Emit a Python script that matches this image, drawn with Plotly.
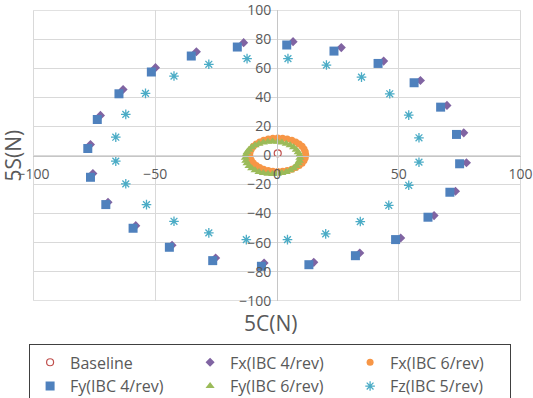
import plotly.graph_objects as go

# --- data -----------------------------------------------------------------
baseline_x = [0.3]
baseline_y = [1.5]

fx4_x = [6.6, 26.4, 43.8, 58.9, 69.8, 76.7, 77.8, 73.3, 64.5, 50.8, 34.0, 15.1,
         -5.3, -25.2, -43.1, -58.0, -69.4, -75.6, -76.6, -72.5, -63.2, -49.9, -33.1, -13.7]
fx4_y = [78.4, 74.3, 65.0, 51.7, 34.5, 15.6, -5.0, -24.6, -41.4, -56.8, -67.1, -73.6,
         -74.0, -70.6, -61.8, -48.3, -32.2, -12.4, 7.6, 27.6, 45.5, 60.5, 71.5, 77.7]

fy4_x = [4.0, 23.4, 41.5, 56.3, 67.2, 73.7, 75.0, 71.0, 62.0, 48.7, 32.2, 13.1,
         -6.4, -26.4, -44.2, -59.1, -70.3, -76.6, -77.7, -73.8, -64.9, -51.6, -35.2, -16.3]
fy4_y = [76.1, 71.9, 63.4, 50.1, 33.3, 14.5, -5.7, -25.3, -42.5, -57.9, -69.0, -75.2,
         -76.3, -72.4, -63.2, -50.1, -33.8, -15.0, 4.8, 24.8, 42.5, 57.5, 68.5, 74.7]

fx6_x = [11.8, 11.6, 11.1, 10.3, 9.1, 7.7, 6.1, 4.2, 2.3, 0.3, -1.7, -3.6,
         -5.5, -7.1, -8.5, -9.7, -10.5, -11.0, -11.2, -11.0, -10.5, -9.7, -8.5, -7.1,
         -5.5, -3.6, -1.7, 0.3, 2.3, 4.2, 6.1, 7.7, 9.1, 10.3, 11.1, 11.6]
fx6_y = [0.5, 2.5, 4.4, 6.3, 7.9, 9.3, 10.5, 11.3, 11.8, 12.0, 11.8, 11.3,
         10.5, 9.3, 7.9, 6.3, 4.4, 2.5, 0.5, -1.5, -3.4, -5.3, -6.9, -8.3,
         -9.5, -10.3, -10.8, -11.0, -10.8, -10.3, -9.5, -8.3, -6.9, -5.3, -3.4, -1.5]

fy6_x = [9.4, 9.2, 8.7, 7.9, 6.8, 5.4, 3.8, 2.0, 0.2, -1.8, -3.7, -5.6,
         -7.4, -9.0, -10.4, -11.5, -12.3, -12.8, -13.0, -12.8, -12.3, -11.5, -10.4, -9.0,
         -7.4, -5.6, -3.7, -1.8, 0.2, 2.0, 3.8, 5.4, 6.8, 7.9, 8.7, 9.2]
fy6_y = [-1.6, 0.4, 2.2, 4.0, 5.6, 7.0, 8.1, 8.9, 9.4, 9.6, 9.4, 8.9,
         8.1, 7.0, 5.6, 4.0, 2.2, 0.4, -1.6, -3.6, -5.4, -7.2, -8.8, -10.2,
         -11.3, -12.1, -12.6, -12.8, -12.6, -12.1, -11.3, -10.2, -8.8, -7.2, -5.4, -3.6]

fz5_x = [4.5, 20.3, 34.7, 46.3, 54.1, 58.3, 58.3, 54.1, 45.9, 34.2, 20.0, 4.3,
         -12.6, -28.0, -42.3, -53.6, -62.1, -66.2, -66.2, -62.1, -54.0, -42.3, -28.0, -12.3]
fz5_y = [66.7, 62.3, 54.0, 42.5, 27.8, 12.2, -4.6, -20.5, -34.3, -45.5, -54.0, -57.9,
         -57.9, -53.3, -45.3, -33.8, -19.5, -3.9, 12.6, 28.3, 42.8, 54.7, 62.8, 66.7]

y_tick_vals = [-100, -80, -60, -40, -20, 0, 20, 40, 60, 80, 100]
x_tick_vals = [-100, -50, 0, 50, 100]
axis_limit = 100

# --- figure ---------------------------------------------------------------
fig = go.Figure()

fig.add_trace(go.Scatter(
    x=baseline_x, y=baseline_y, mode="markers", name="Baseline",
    marker=dict(symbol="circle-open", size=7, color="#c0504d", line=dict(width=1.2))))
fig.add_trace(go.Scatter(
    x=fx4_x, y=fx4_y, mode="markers", name="Fx(IBC 4/rev)",
    marker=dict(symbol="diamond", size=7, color="#8064a2")))
fig.add_trace(go.Scatter(
    x=fx6_x, y=fx6_y, mode="markers", name="Fx(IBC 6/rev)",
    marker=dict(symbol="circle", size=7, color="#f79646")))
fig.add_trace(go.Scatter(
    x=fy4_x, y=fy4_y, mode="markers", name="Fy(IBC 4/rev)",
    marker=dict(symbol="square", size=9, color="#4f81bd")))
fig.add_trace(go.Scatter(
    x=fy6_x, y=fy6_y, mode="markers", name="Fy(IBC 6/rev)",
    marker=dict(symbol="triangle-up", size=8, color="#9bbb59")))
fig.add_trace(go.Scatter(
    x=fz5_x, y=fz5_y, mode="markers", name="Fz(IBC 5/rev)",
    marker=dict(symbol="asterisk-open", size=8, color="#4bacc6",
                line=dict(width=1.3, color="#4bacc6"))))

tick_font = dict(family="Open Sans", size=14, color="#595959")

# axes cross at the origin: each axis line sits in the middle of the plot area
fig.update_xaxes(
    range=[-100.2, 100.2], tickvals=x_tick_vals, anchor="free", position=0.5,
    showgrid=True, gridcolor="#d9d9d9", gridwidth=1,
    showline=True, linecolor="#c6c6c6", linewidth=1,
    zeroline=False, ticks="", ticklabelstandoff=6, tickfont=tick_font,
    automargin=False)
fig.update_yaxes(
    range=[-100.2, 100.2], tickvals=y_tick_vals, anchor="free", position=0.5,
    showgrid=True, gridcolor="#d9d9d9", gridwidth=1,
    showline=True, linecolor="#c6c6c6", linewidth=1,
    zeroline=False, ticks="", ticklabelstandoff=3, tickfont=tick_font,
    automargin=False)

# outer grid frame at +/-100
fig.add_shape(type="rect", xref="x", yref="y",
              x0=-axis_limit, x1=axis_limit, y0=-axis_limit, y1=axis_limit,
              line=dict(color="#d9d9d9", width=1), layer="below")

fig.add_annotation(text="5S(N)", xref="paper", yref="paper", x=-0.043, y=0.5,
                   xanchor="center", yanchor="middle",
                   textangle=-90, showarrow=False,
                   font=dict(family="Open Sans", size=21, color="#595959"))
fig.add_annotation(text="5C(N)", xref="paper", yref="paper", x=0.486, y=-0.075,
                   xanchor="center", yanchor="middle", showarrow=False,
                   font=dict(family="Open Sans", size=21, color="#595959"))

fig.update_layout(
    width=533, height=398,
    margin=dict(l=33, r=12, t=10, b=97, autoexpand=False),
    paper_bgcolor="white", plot_bgcolor="white",
    font=dict(family="Open Sans", color="#595959"),
    legend=dict(
        orientation="h", x=-0.008, y=-0.149, xanchor="left", yanchor="top",
        entrywidth=115, entrywidthmode="pixels",
        bordercolor="#404040", borderwidth=1, bgcolor="white",
        font=dict(family="Open Sans", size=16, color="#595959"),
        itemsizing="trace"),
)

fig.write_html("out.html")
